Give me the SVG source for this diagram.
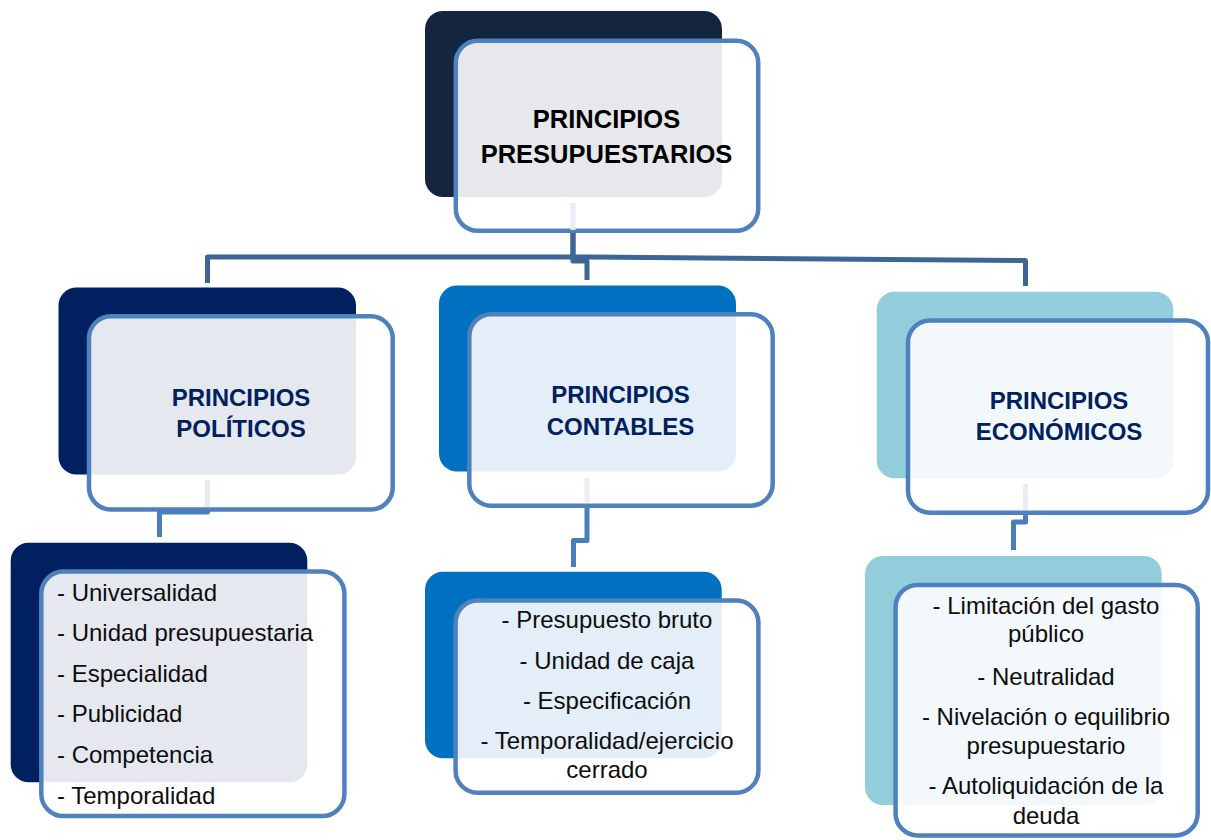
<svg xmlns="http://www.w3.org/2000/svg" width="1211" height="840" viewBox="0 0 1211 840">
<style>
.ol{fill:none;stroke:#4F81BD;stroke-width:4.5}
.wh{fill:#FFFFFF}
.h{font-family:"Liberation Sans",Arial,sans-serif;font-weight:bold;font-size:24px;fill:#002060;text-anchor:middle}
.ht{font-family:"Liberation Sans",Arial,sans-serif;font-weight:bold;font-size:25.5px;fill:#000000;text-anchor:middle}
.b{font-family:"Liberation Sans",Arial,sans-serif;font-size:24px;fill:#0D0D0D}
.c{text-anchor:middle}
.faint{fill:none;stroke:#E8EDF4;stroke-width:5}
.c1{fill:none;stroke:#3D6696;stroke-width:5;stroke-linejoin:round}
.c2{fill:none;stroke:#4A7EBB;stroke-width:5;stroke-linejoin:round}
</style>
<defs>
<clipPath id="k0"><rect x="455.8" y="40.8" width="302.4" height="190" rx="22"/></clipPath>
<clipPath id="k1"><rect x="89" y="316.3" width="303.7" height="193.2" rx="22"/></clipPath>
<clipPath id="k2"><rect x="469.3" y="314.3" width="303.4" height="191.4" rx="22"/></clipPath>
<clipPath id="k3"><rect x="908" y="320.5" width="300" height="192.2" rx="22"/></clipPath>
<clipPath id="k4"><rect x="41.3" y="571.6" width="303.1" height="244.4" rx="22"/></clipPath>
<clipPath id="k5"><rect x="455.6" y="600.6" width="302.8" height="192.1" rx="22"/></clipPath>
<clipPath id="k6"><rect x="895.6" y="585" width="302.1" height="250.4" rx="22"/></clipPath>
</defs>

<g id="root">
<rect x="425" y="11" width="297" height="186" rx="18" fill="#14263F"/>
<rect class="wh" x="455.8" y="40.8" width="302.4" height="190" rx="22"/>
<rect x="425" y="11" width="297" height="186" rx="18" fill="#E7E8EC" clip-path="url(#k0)"/>
<rect class="ol" x="455.8" y="40.8" width="302.4" height="190" rx="22"/>
<text class="ht" x="606.5" y="128">PRINCIPIOS</text>
<text class="ht" x="606.5" y="163">PRESUPUESTARIOS</text>
</g>

<g id="politicos">
<rect x="58.5" y="287.5" width="297.5" height="187" rx="18" fill="#002060"/>
<rect class="wh" x="89" y="316.3" width="303.7" height="193.2" rx="22"/>
<rect x="58.5" y="287.5" width="297.5" height="187" rx="18" fill="#E5E8EF" clip-path="url(#k1)"/>
<rect class="ol" x="89" y="316.3" width="303.7" height="193.2" rx="22"/>
<text class="h" x="241" y="406">PRINCIPIOS</text>
<text class="h" x="241" y="437">POLÍTICOS</text>
</g>

<g id="contables">
<rect x="439" y="285.5" width="297" height="186" rx="18" fill="#0070C0"/>
<rect class="wh" x="469.3" y="314.3" width="303.4" height="191.4" rx="22"/>
<rect x="439" y="285.5" width="297" height="186" rx="18" fill="#E3EEF8" clip-path="url(#k2)"/>
<rect class="ol" x="469.3" y="314.3" width="303.4" height="191.4" rx="22"/>
<text class="h" x="620.5" y="403">PRINCIPIOS</text>
<text class="h" x="620.5" y="435">CONTABLES</text>
</g>

<g id="economicos">
<rect x="876.7" y="291.7" width="296.6" height="186.6" rx="18" fill="#92CDDC"/>
<rect class="wh" x="908" y="320.5" width="300" height="192.2" rx="22"/>
<rect x="876.7" y="291.7" width="296.6" height="186.6" rx="18" fill="#F2F8FB" clip-path="url(#k3)"/>
<rect class="ol" x="908" y="320.5" width="300" height="192.2" rx="22"/>
<text class="h" x="1059" y="409">PRINCIPIOS</text>
<text class="h" x="1059" y="440">ECONÓMICOS</text>
</g>

<g id="lista-politicos">
<rect x="10.7" y="542.7" width="296.6" height="239.6" rx="18" fill="#002060"/>
<rect class="wh" x="41.3" y="571.6" width="303.1" height="244.4" rx="22"/>
<rect x="10.7" y="542.7" width="296.6" height="239.6" rx="18" fill="#E5E8EF" clip-path="url(#k4)"/>
<rect class="ol" x="41.3" y="571.6" width="303.1" height="244.4" rx="22"/>
<text class="b" x="57" y="600.5">- Universalidad</text>
<text class="b" x="57" y="641">- Unidad presupuestaria</text>
<text class="b" x="57" y="681.5">- Especialidad</text>
<text class="b" x="57" y="722">- Publicidad</text>
<text class="b" x="57" y="763">- Competencia</text>
<text class="b" x="57" y="804">- Temporalidad</text>
</g>

<g id="lista-contables">
<rect x="425" y="571.7" width="296.7" height="186.6" rx="18" fill="#0070C0"/>
<rect class="wh" x="455.6" y="600.6" width="302.8" height="192.1" rx="22"/>
<rect x="425" y="571.7" width="296.7" height="186.6" rx="18" fill="#E3EEF8" clip-path="url(#k5)"/>
<rect class="ol" x="455.6" y="600.6" width="302.8" height="192.1" rx="22"/>
<text class="b c" x="607" y="628.3">- Presupuesto bruto</text>
<text class="b c" x="607" y="668.5">- Unidad de caja</text>
<text class="b c" x="607" y="709">- Especificación</text>
<text class="b c" x="607" y="749.3">- Temporalidad/ejercicio</text>
<text class="b c" x="607" y="778.3">cerrado</text>
</g>

<g id="lista-economicos">
<rect x="865" y="556" width="296.7" height="249" rx="18" fill="#92CDDC"/>
<rect class="wh" x="895.6" y="585" width="302.1" height="250.4" rx="22"/>
<rect x="865" y="556" width="296.7" height="249" rx="18" fill="#F2F8FB" clip-path="url(#k6)"/>
<rect class="ol" x="895.6" y="585" width="302.1" height="250.4" rx="22"/>
<text class="b c" x="1046" y="614">- Limitación del gasto</text>
<text class="b c" x="1046" y="642">público</text>
<text class="b c" x="1046" y="685">- Neutralidad</text>
<text class="b c" x="1046" y="725">- Nivelación o equilibrio</text>
<text class="b c" x="1046" y="753.5">presupuestario</text>
<text class="b c" x="1046" y="794">- Autoliquidación de la</text>
<text class="b c" x="1046" y="824">deuda</text>
</g>

<g id="connectors">
<path class="faint" d="M573,203 V230"/>
<path class="faint" d="M207.5,480 V507"/>
<path class="faint" d="M587,478 V503"/>
<path class="faint" d="M1025.5,484 V510"/>
<path class="c1" d="M573,233 V257 H207.5 V283"/>
<path class="c1" d="M573,233 V261 H587 V280"/>
<path class="c1" d="M573,257 H590 L1025.5,260.5 V286"/>
<path class="c2" d="M207.5,511 V512 H159.5 V537"/>
<path class="c2" d="M587,508 V540.5 H573.5 V567"/>
<path class="c2" d="M1025.5,515 V522 H1013.5 V550"/>
</g>
</svg>
